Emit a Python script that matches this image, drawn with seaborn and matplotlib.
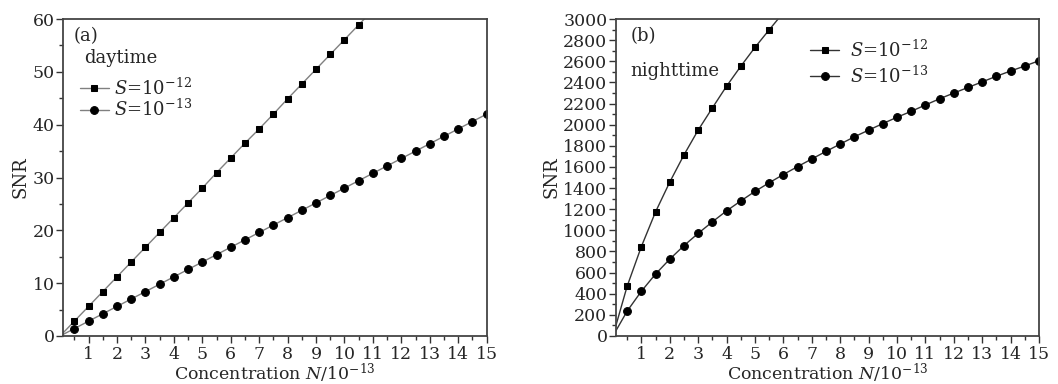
import numpy as np
import pandas as pd
import matplotlib
matplotlib.use("Agg")
import matplotlib.pyplot as plt
import seaborn as sns
from matplotlib.ticker import MultipleLocator

sns.set_theme(style="ticks")
plt.rcParams['font.family'] = ['DejaVu Serif']
plt.rcParams['mathtext.fontset'] = 'dejavuserif'

# concentration N (x10^-13)
conc = [0, 0.5, 1, 1.5, 2, 2.5, 3, 3.5, 4, 4.5, 5, 5.5, 6, 6.5, 7, 7.5,
        8, 8.5, 9, 9.5, 10, 10.5, 11, 11.5, 12, 12.5, 13, 13.5, 14, 14.5, 15]

# (a) daytime
day_s12 = [0, 2.8, 5.6, 8.4, 11.2, 14.0, 16.8, 19.6, 22.4, 25.2, 28.0, 30.9,
           33.7, 36.5, 39.2, 42.0, 44.9, 47.7, 50.5, 53.3, 56.1, 58.9, 61.7,
           64.5, 67.3, 70.1, 72.9, 75.7, 78.5, 81.3, 84.1]
day_s13 = [0, 1.4, 2.8, 4.2, 5.6, 7.0, 8.4, 9.8, 11.2, 12.6, 14.0, 15.4,
           16.8, 18.2, 19.6, 21.0, 22.4, 23.8, 25.2, 26.6, 28.0, 29.4, 30.8,
           32.2, 33.6, 35.0, 36.4, 37.8, 39.2, 40.6, 42.0]

# (b) nighttime
night_s12 = [0, 470, 845, 1174, 1456, 1713, 1948, 2158, 2364, 2552, 2731, 2897,
             3060, 3210, 3350, 3480, 3610, 3730, 3850, 3960, 4070, 4180, 4280,
             4380, 4480, 4570, 4660, 4750, 4840, 4920, 5000]
night_s13 = [0, 235, 423, 586, 727, 855, 971, 1080, 1184, 1278, 1368, 1450,
             1528, 1603, 1675, 1747, 1816, 1885, 1948, 2010, 2070, 2126, 2186,
             2245, 2299, 2352, 2405, 2458, 2508, 2555, 2605]

lab12 = r'$S$=10$^{-12}$'
lab13 = r'$S$=10$^{-13}$'

fig = plt.figure(figsize=(10.58, 3.84), dpi=100)
ax1 = fig.add_axes([0.0595, 0.125, 0.4005, 0.8255])
ax2 = fig.add_axes([0.582, 0.125, 0.400, 0.8255])


def draw(ax, s12, s13, lcolor):
    df = pd.DataFrame({'N': conc, 's12': s12, 's13': s13})
    sns.lineplot(data=df, x='N', y='s12', ax=ax, color=lcolor, lw=1.0,
                 marker='s', markersize=5, markerfacecolor='black',
                 markeredgecolor='black', markevery=slice(1, None), label=lab12)
    sns.lineplot(data=df, x='N', y='s13', ax=ax, color=lcolor, lw=1.0,
                 marker='o', markersize=5.6, markerfacecolor='black',
                 markeredgecolor='black', markevery=slice(1, None), label=lab13)
    ax.set_xlim(0.1, 15)
    ax.xaxis.set_major_locator(MultipleLocator(1))
    ax.xaxis.set_minor_locator(MultipleLocator(0.5))
    ax.set_xticks(range(1, 16))
    ax.tick_params(which='major', direction='out', length=5, width=1,
                   labelsize=12.5, pad=2, color='#333333')
    ax.tick_params(which='minor', direction='out', length=3, width=1,
                   color='#333333')
    ax.tick_params(axis='y', pad=1)
    for sp in ax.spines.values():
        sp.set_visible(True)
        sp.set_linewidth(1.3)
        sp.set_color('#444444')
    ax.set_xlabel(r'Concentration $N$/10$^{-13}$', fontsize=12.5, labelpad=-1)
    ax.set_ylabel('SNR', fontsize=13, labelpad=2)


draw(ax1, day_s12, day_s13, '#808080')
ax1.set_ylim(0, 60)
ax1.yaxis.set_major_locator(MultipleLocator(10))
ax1.yaxis.set_minor_locator(MultipleLocator(5))
ax1.text(0.025, 0.975, '(a)', transform=ax1.transAxes, fontsize=13, va='top')
ax1.text(0.05, 0.905, 'daytime', transform=ax1.transAxes, fontsize=13, va='top')
ax1.legend(loc='upper left', bbox_to_anchor=(0.01, 0.855), frameon=False,
           fontsize=13, handlelength=1.6, handletextpad=0.3,
           labelspacing=0.0, borderaxespad=0.3)

draw(ax2, night_s12, night_s13, '#333333')
ax2.set_ylim(0, 3000)
ax2.yaxis.set_major_locator(MultipleLocator(200))
ax2.yaxis.set_minor_locator(MultipleLocator(100))
ax2.text(0.035, 0.975, '(b)', transform=ax2.transAxes, fontsize=13, va='top')
ax2.text(0.035, 0.865, 'nighttime', transform=ax2.transAxes, fontsize=13, va='top')
ax2.legend(loc='upper left', bbox_to_anchor=(0.43, 0.975), frameon=False,
           fontsize=13, handlelength=1.6, handletextpad=0.6,
           labelspacing=0.25, borderaxespad=0.3)

fig.savefig('out.png', dpi=100)
